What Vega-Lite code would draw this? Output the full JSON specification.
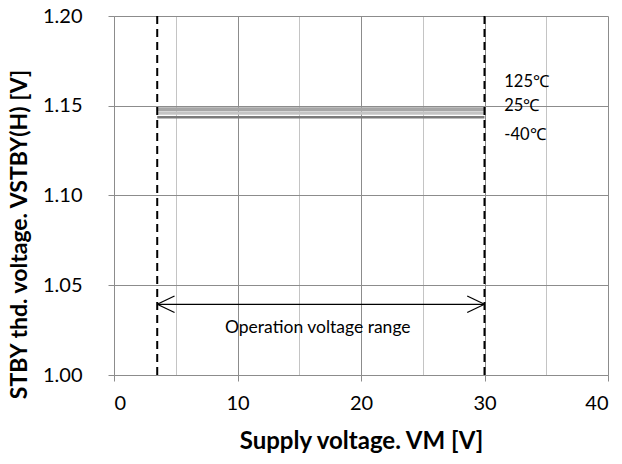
{
  "$schema": "https://vega.github.io/schema/vega-lite/v6.json",
  "width": 494,
  "height": 359,
  "autosize": "none",
  "padding": {"left": 114, "top": 16, "right": 14, "bottom": 89},
  "background": "white",
  "config": {
    "view": {"stroke": null},
    "font": "Lato",
    "axis": {"labelFont": "Lato", "titleFont": "Lato"}
  },
  "datasets": {
    "series": [
      {"vm": 3.5, "v": 1.1481, "temp": "125℃"},
      {"vm": 10, "v": 1.1481, "temp": "125℃"},
      {"vm": 20, "v": 1.1481, "temp": "125℃"},
      {"vm": 30, "v": 1.1481, "temp": "125℃"},
      {"vm": 3.5, "v": 1.1459, "temp": "25℃"},
      {"vm": 10, "v": 1.1459, "temp": "25℃"},
      {"vm": 20, "v": 1.1459, "temp": "25℃"},
      {"vm": 30, "v": 1.1459, "temp": "25℃"},
      {"vm": 3.5, "v": 1.1436, "temp": "-40℃"},
      {"vm": 10, "v": 1.1436, "temp": "-40℃"},
      {"vm": 20, "v": 1.1436, "temp": "-40℃"},
      {"vm": 30, "v": 1.1436, "temp": "-40℃"}
    ],
    "limits": [{"vm": 3.5}, {"vm": 30}],
    "arrow": [{"x1": 3.5, "x2": 30, "y1": 1.0394, "y2": 1.0394}],
    "heads": [
      {"x1": 3.5, "y1": 1.0394, "x2": 4.9, "y2": 1.0440},
      {"x1": 3.5, "y1": 1.0394, "x2": 4.9, "y2": 1.0348},
      {"x1": 30, "y1": 1.0394, "x2": 28.6, "y2": 1.0440},
      {"x1": 30, "y1": 1.0394, "x2": 28.6, "y2": 1.0348}
    ],
    "labels": [
      {"vm": 31.6, "v": 1.1633, "txt": "125℃"},
      {"vm": 31.6, "v": 1.1500, "txt": "25℃"},
      {"vm": 31.6, "v": 1.1339, "txt": "-40℃"}
    ],
    "note": [{"vm": 16.5, "v": 1.0261, "txt": "Operation voltage range"}]
  },
  "layer": [
    {
      "data": {"name": "series"},
      "mark": {"type": "line", "strokeCap": "butt"},
      "encoding": {
        "x": {
          "field": "vm", "type": "quantitative",
          "scale": {"domain": [0, 40], "nice": false, "zero": false},
          "axis": {
            "values": [0, 5, 10, 15, 20, 25, 30, 35, 40],
            "labelExpr": "datum.value % 10 === 0 ? datum.label : ''",
            "gridColor": {"condition": {"test": "datum.value % 10 === 0", "value": "#8c8c8c"}, "value": "#c4c4c4"},
            "tickColor": {"condition": {"test": "datum.value % 10 === 0", "value": "#8c8c8c"}, "value": "transparent"},
            "tickSize": 6,
            "domainColor": "#8c8c8c",
            "labelFontSize": 20,
            "labelColor": "#000",
            "labelPadding": 12,
            "title": "Supply voltage. VM [V]",
            "titleFontSize": 24,
            "titleFontWeight": "bold",
            "titleColor": "#000",
            "titlePadding": 16
          }
        },
        "y": {
          "field": "v", "type": "quantitative",
          "scale": {"domain": [1.0, 1.2], "nice": false, "zero": false},
          "axis": {
            "values": [1.0, 1.05, 1.1, 1.15, 1.2],
            "format": ".2f",
            "gridColor": "#8c8c8c",
            "tickColor": "#8c8c8c",
            "domainColor": "#8c8c8c",
            "tickSize": 6,
            "labelFontSize": 20,
            "labelColor": "#000",
            "labelPadding": 26,
            "title": "STBY thd. voltage.  VSTBY(H)  [V]",
            "titleFontSize": 23,
            "titleFontWeight": "bold",
            "titleColor": "#000",
            "titlePadding": 11,
            "titleY": 218
          }
        },
        "color": {
          "field": "temp", "type": "nominal",
          "scale": {"domain": ["125℃", "25℃", "-40℃"], "range": ["#a6a6a6", "#c4c4c4", "#7a7a7a"]},
          "legend": null
        },
        "size": {
          "field": "temp", "type": "nominal",
          "scale": {"domain": ["125℃", "25℃", "-40℃"], "range": [4, 2.5, 4]},
          "legend": null
        }
      }
    },
    {
      "data": {"name": "limits"},
      "mark": {"type": "rule", "color": "#000", "strokeWidth": 2, "strokeDash": [8, 5]},
      "encoding": {
        "x": {"field": "vm", "type": "quantitative", "scale": {"domain": [0, 40], "nice": false, "zero": false}}
      }
    },
    {
      "data": {"name": "arrow"},
      "mark": {"type": "rule", "color": "#000", "strokeWidth": 1.3},
      "encoding": {
        "x": {"field": "x1", "type": "quantitative", "scale": {"domain": [0, 40], "nice": false, "zero": false}},
        "x2": {"field": "x2"},
        "y": {"field": "y1", "type": "quantitative", "scale": {"domain": [1.0, 1.2], "nice": false, "zero": false}},
        "y2": {"field": "y2"}
      }
    },
    {
      "data": {"name": "heads"},
      "mark": {"type": "rule", "color": "#000", "strokeWidth": 1.3},
      "encoding": {
        "x": {"field": "x1", "type": "quantitative", "scale": {"domain": [0, 40], "nice": false, "zero": false}},
        "x2": {"field": "x2"},
        "y": {"field": "y1", "type": "quantitative", "scale": {"domain": [1.0, 1.2], "nice": false, "zero": false}},
        "y2": {"field": "y2"}
      }
    },
    {
      "data": {"name": "labels"},
      "mark": {"type": "text", "align": "left", "baseline": "middle", "fontSize": 16.5, "color": "#000", "font": "Lato"},
      "encoding": {
        "x": {"field": "vm", "type": "quantitative", "scale": {"domain": [0, 40], "nice": false, "zero": false}},
        "y": {"field": "v", "type": "quantitative", "scale": {"domain": [1.0, 1.2], "nice": false, "zero": false}},
        "text": {"field": "txt"}
      }
    },
    {
      "data": {"name": "note"},
      "mark": {"type": "text", "align": "center", "baseline": "middle", "fontSize": 17.5, "color": "#000", "font": "Lato"},
      "encoding": {
        "x": {"field": "vm", "type": "quantitative", "scale": {"domain": [0, 40], "nice": false, "zero": false}},
        "y": {"field": "v", "type": "quantitative", "scale": {"domain": [1.0, 1.2], "nice": false, "zero": false}},
        "text": {"field": "txt"}
      }
    }
  ]
}
